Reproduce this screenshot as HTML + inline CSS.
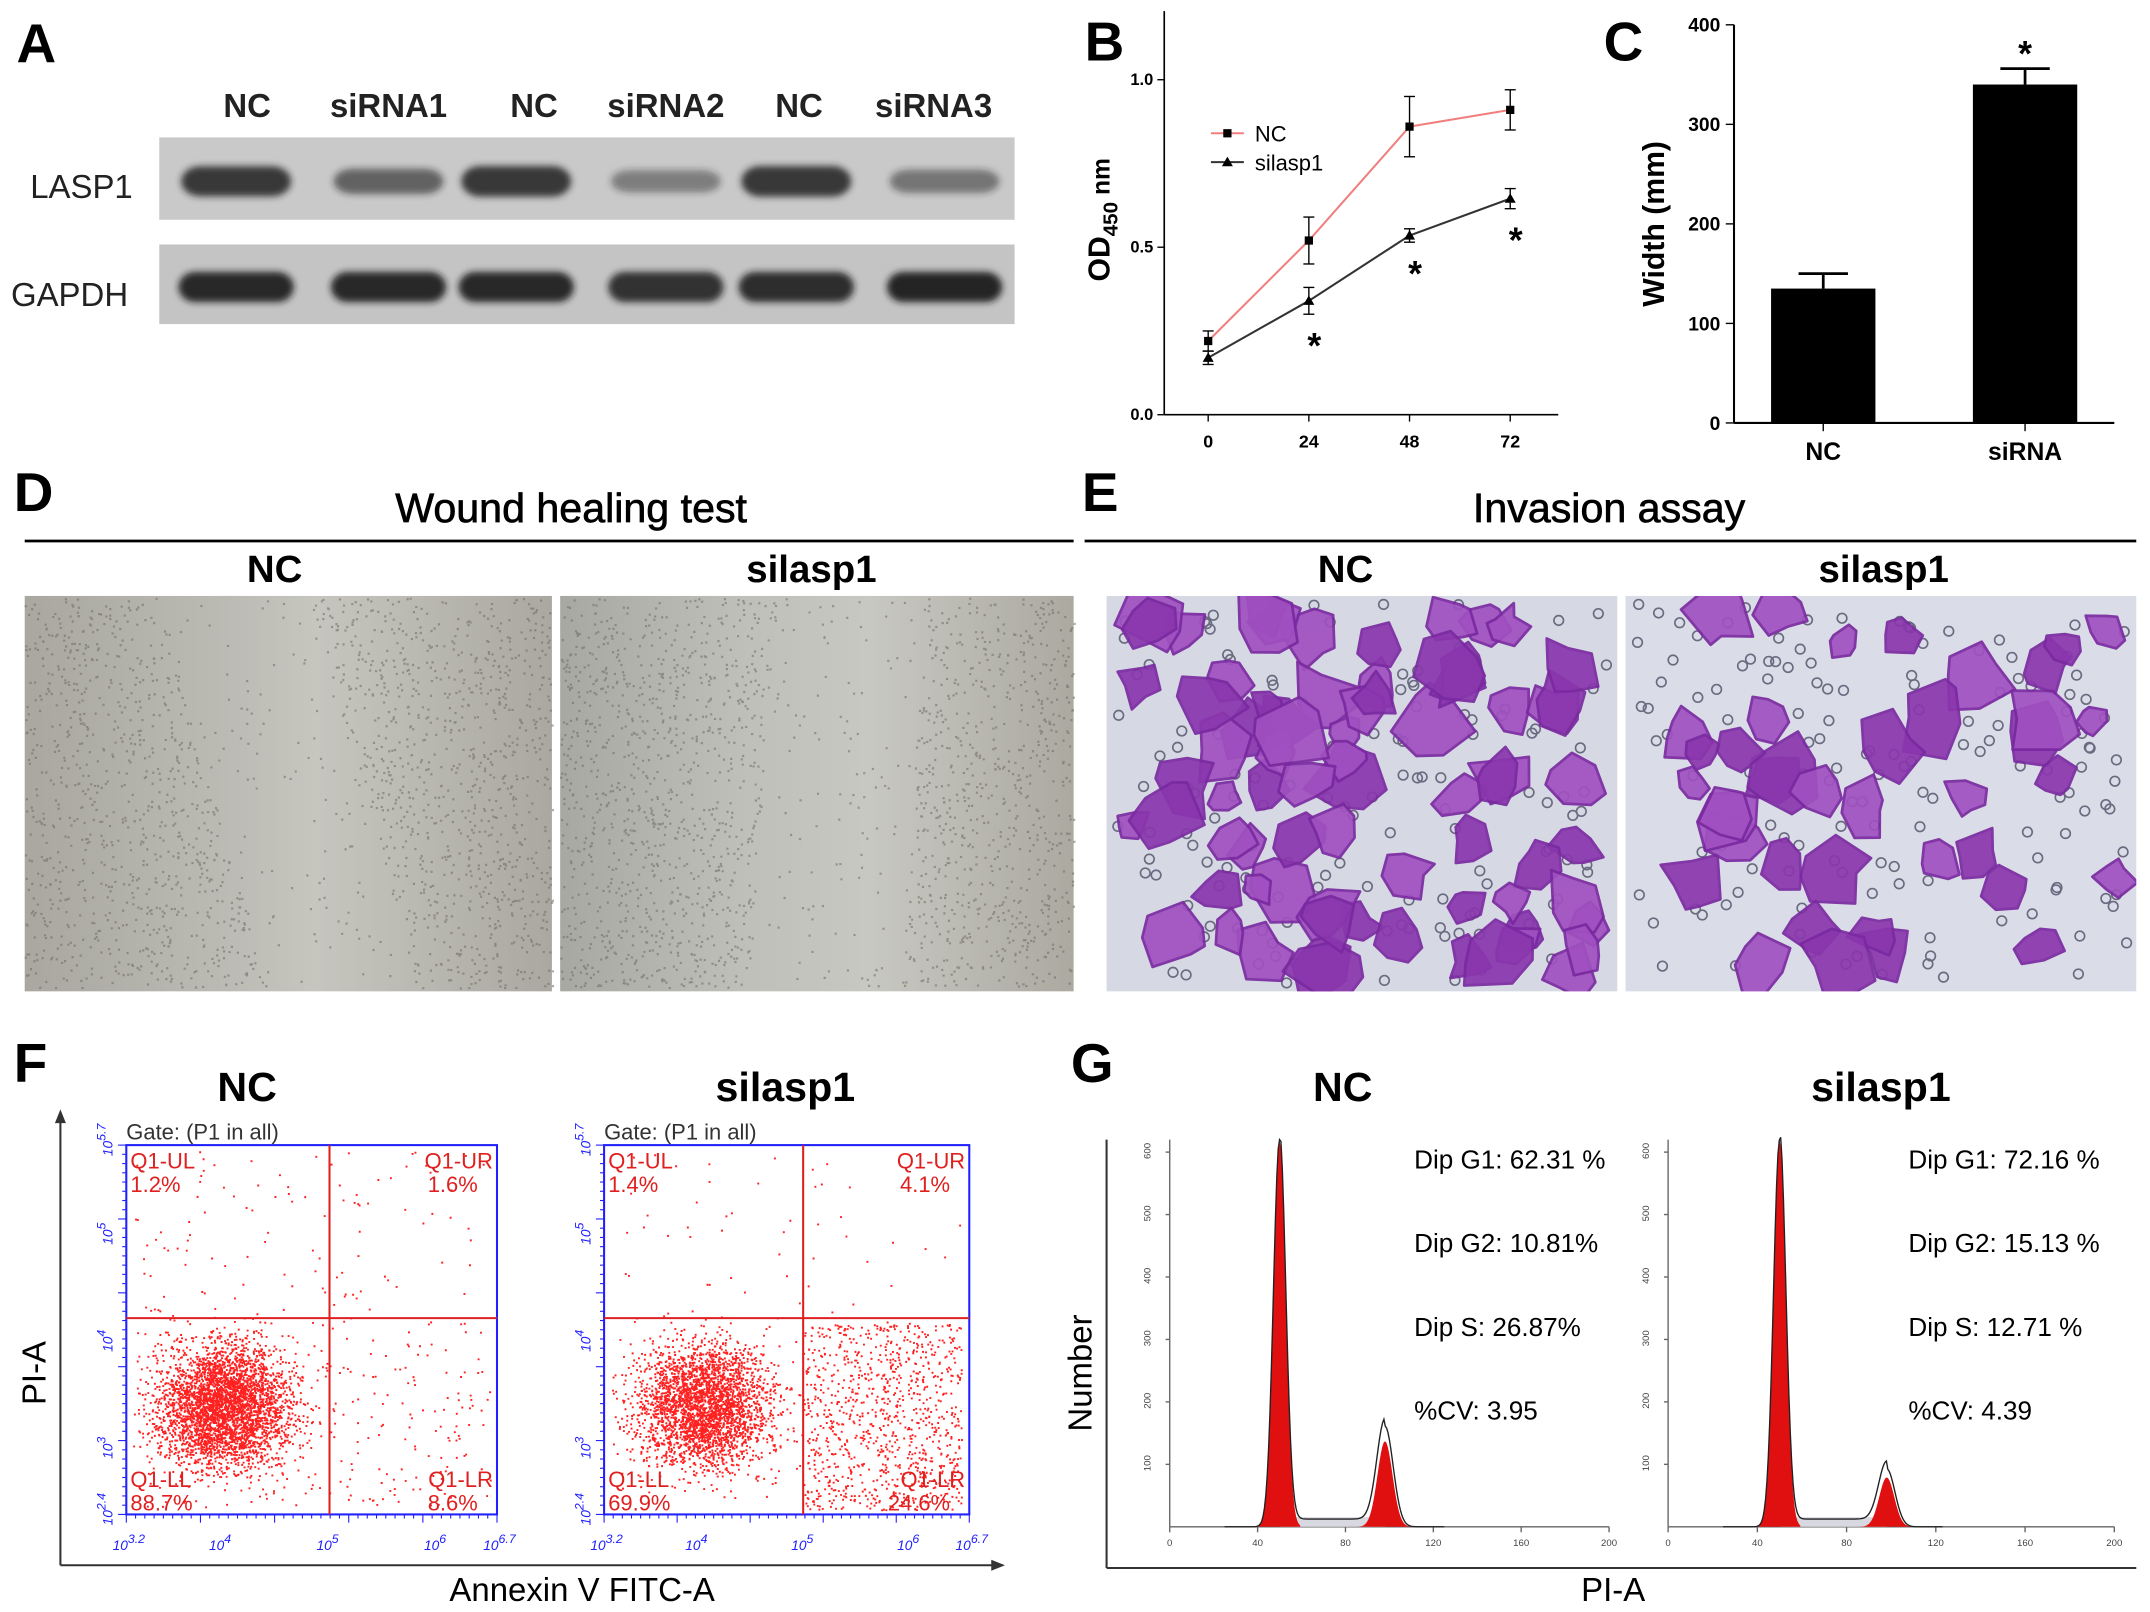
<!DOCTYPE html>
<html><head><meta charset="utf-8"><style>
html,body{margin:0;padding:0;background:#fff}
svg{display:block;font-family:"Liberation Sans",Arial,sans-serif}
</style></head><body>
<svg id="fig" width="2150" height="1612" viewBox="0 0 1566 1174">
<defs>
<linearGradient id="wnd" x1="0" x2="1" y1="0" y2="0">
<stop offset="0" stop-color="#a9a79f"/><stop offset="0.4" stop-color="#bcbcb5"/><stop offset="0.55" stop-color="#c6c6bf"/><stop offset="1" stop-color="#aaa8a0"/></linearGradient>
<linearGradient id="wnd2" x1="0" x2="1" y1="0" y2="0">
<stop offset="0" stop-color="#a8a8a3"/><stop offset="0.35" stop-color="#bfbfba"/><stop offset="0.6" stop-color="#c8c8c2"/><stop offset="1" stop-color="#aba9a0"/></linearGradient>
<filter id="blur1"><feGaussianBlur stdDeviation="2.5"/></filter>
<clipPath id="clipE1"><rect x="806" y="434" width="372" height="288"/></clipPath>
<clipPath id="clipE2"><rect x="1184" y="434" width="372" height="288"/></clipPath>
</defs>

<!-- Panel A -->
<g>
<text x="12" y="45" font-size="40" font-weight="bold">A</text>
<g font-size="24" font-weight="bold" text-anchor="middle" fill="#222">
<text x="180" y="85">NC</text>
<text x="283" y="85">siRNA1</text>
<text x="389" y="85">NC</text>
<text x="485" y="85">siRNA2</text>
<text x="582" y="85">NC</text>
<text x="680" y="85">siRNA3</text>
</g>
<rect x="116" y="100" width="623" height="60" fill="#c9c9c9"/>
<rect x="116" y="178" width="623" height="58" fill="#c4c4c4"/>
<g id="bands" filter="url(#blur1)"></g>
<text x="22" y="144" font-size="24" fill="#222">LASP1</text>
<text x="8" y="223" font-size="24" fill="#222">GAPDH</text>
</g>

<!-- Panel B -->
<g>
<text x="790" y="44" font-size="40" font-weight="bold">B</text>
<g id="chartB"></g>
</g>

<!-- Panel C -->
<g>
<text x="1168" y="44" font-size="40" font-weight="bold">C</text>
<g id="chartC"></g>
</g>

<!-- Panel D -->
<g>
<text x="10" y="372" font-size="40" font-weight="bold">D</text>
<text x="416" y="380" font-size="30" text-anchor="middle" stroke="#000" stroke-width="0.5">Wound healing test</text>
<line x1="18" y1="394" x2="782" y2="394" stroke="#000" stroke-width="2"/>
<text x="200" y="424" font-size="28" font-weight="bold" text-anchor="middle">NC</text>
<text x="591" y="424" font-size="28" font-weight="bold" text-anchor="middle">silasp1</text>
<rect x="18" y="434" width="384" height="288" fill="url(#wnd)"/>
<rect x="408" y="434" width="374" height="288" fill="url(#wnd2)"/>
<g id="speckle"></g>
</g>

<!-- Panel E -->
<g>
<text x="788" y="372" font-size="40" font-weight="bold">E</text>
<text x="1172" y="380" font-size="30" text-anchor="middle" stroke="#000" stroke-width="0.5">Invasion assay</text>
<line x1="790" y1="394" x2="1556" y2="394" stroke="#000" stroke-width="2"/>
<text x="980" y="424" font-size="28" font-weight="bold" text-anchor="middle">NC</text>
<text x="1372" y="424" font-size="28" font-weight="bold" text-anchor="middle">silasp1</text>
<rect x="806" y="434" width="372" height="288" fill="#d6d9e4"/>
<rect x="1184" y="434" width="372" height="288" fill="#dadde7"/>
<g id="cells1" clip-path="url(#clipE1)"></g>
<g id="cells2" clip-path="url(#clipE2)"></g>
</g>

<!-- Panel F -->
<g>
<text x="10" y="788" font-size="40" font-weight="bold">F</text>
<text x="180" y="802" font-size="30" font-weight="bold" text-anchor="middle">NC</text>
<text x="572" y="802" font-size="30" font-weight="bold" text-anchor="middle">silasp1</text>
<line x1="44" y1="1140" x2="44" y2="812" stroke="#333" stroke-width="1.5"/>
<path d="M40,818 L44,808 L48,818 Z" fill="#333"/>
<line x1="44" y1="1140" x2="728" y2="1140" stroke="#333" stroke-width="1.5"/>
<path d="M722,1136 L732,1140 L722,1144 Z" fill="#333"/>
<text transform="translate(33,1000) rotate(-90)" font-size="24" text-anchor="middle">PI-A</text>
<text x="424" y="1166" font-size="24" text-anchor="middle">Annexin V FITC-A</text>
<g id="flow"></g>
</g>

<!-- Panel G -->
<g>
<text x="780" y="788" font-size="40" font-weight="bold">G</text>
<text x="978" y="802" font-size="30" font-weight="bold" text-anchor="middle">NC</text>
<text x="1370" y="802" font-size="30" font-weight="bold" text-anchor="middle">silasp1</text>
<line x1="806" y1="1142" x2="806" y2="830" stroke="#333" stroke-width="1.5"/>
<line x1="806" y1="1142" x2="1556" y2="1142" stroke="#333" stroke-width="1.5"/>
<text transform="translate(795,1000) rotate(-90)" font-size="24" text-anchor="middle">Number</text>
<text x="1175" y="1166" font-size="24" text-anchor="middle">PI-A</text>
<g id="cycle"></g>
</g>
</svg>
<script>
// ---- Panel B data ----
const bHours = [0, 24, 48, 72];
const bNC = [0.22, 0.52, 0.86, 0.91];
const bNCErr = [0.03, 0.07, 0.09, 0.06];
const bSi = [0.17, 0.34, 0.535, 0.645];
const bSiErr = [0.02, 0.04, 0.02, 0.03];
const bYTicks = [0.0, 0.5, 1.0];
// ---- Panel C data ----
const cGroups = ["NC", "siRNA"];
const cValues = [135, 340];
const cErr = [15, 16];
const cYTicks = [0, 100, 200, 300, 400];
// ---- Western blot band intensities (0..1) ----
const laspBands = [0.85, 0.6, 0.88, 0.45, 0.88, 0.5];
const gapdhBands = [0.9, 0.9, 0.9, 0.85, 0.88, 0.92];
// ---- Flow cytometry quadrant labels ----
const flowPct = [["1.2%","1.6%","88.7%","8.6%"],["1.4%","4.1%","69.9%","24.6%"]];
// ---- Cell cycle ----
const cycleTexts = [["Dip G1: 62.31 %","Dip G2:  10.81%","Dip S:  26.87%","%CV: 3.95"],["Dip G1: 72.16 %","Dip G2: 15.13 %","Dip S: 12.71 %","%CV: 4.39"]];
const g2Height = [0.26, 0.15];

const NS = "http://www.w3.org/2000/svg";
function mk(parent, tag, attrs, text) {
  const e = document.createElementNS(NS, tag);
  for (const k in attrs) e.setAttribute(k, attrs[k]);
  if (text !== undefined) e.textContent = text;
  parent.appendChild(e);
  return e;
}
let seed = 7;
function rnd() { seed = (seed * 16807) % 2147483647; return (seed - 1) / 2147483646; }
function gauss() { return (rnd() + rnd() + rnd() + rnd() - 2) / 0.58; }

// Bands
const bands = document.getElementById('bands');
const laneX = [172, 283, 376, 485, 580, 688];
laneX.forEach((x, i) => {
  const a = laspBands[i];
  const e1 = mk(bands, 'rect', {x: x - 40, y: 132 - (5 + 7 * a), width: 80, height: 2 * (5 + 7 * a), rx: 14, fill: '#222', opacity: a});
  
  
  const e2 = mk(bands, 'rect', {x: x - 42, y: 198, width: 84, height: 22, rx: 12, fill: '#1a1a1a', opacity: gapdhBands[i]});
  
  
});

// Panel B chart
(function () {
  const g = document.getElementById('chartB');
  const x0 = 848, yb = 302;
  const X = h => 880 + (h / 72) * 220;
  const Y = v => yb - v * 244;
  mk(g, 'line', {x1: x0, y1: 8, x2: x0, y2: yb, stroke: '#000', 'stroke-width': 1.2});
  mk(g, 'line', {x1: x0, y1: yb, x2: 1135, y2: yb, stroke: '#000', 'stroke-width': 1.2});
  bYTicks.forEach(t => {
    mk(g, 'line', {x1: x0 - 5, y1: Y(t), x2: x0, y2: Y(t), stroke: '#000'});
    const tl = mk(g, 'text', {x: x0 - 8, y: Y(t) + 4, 'font-size': 12, 'font-weight': 'bold', 'text-anchor': 'end'}, t.toFixed(1));
    
    
  });
  bHours.forEach(h => {
    mk(g, 'line', {x1: X(h), y1: yb, x2: X(h), y2: yb + 5, stroke: '#000'});
    const tl = mk(g, 'text', {x: X(h), y: yb + 24, 'font-size': 13, 'font-weight': 'bold', 'text-anchor': 'middle'}, h);
    
    
  });
  function series(vals, errs, col, name, marker) {
    const pts = vals.map((v, i) => X(bHours[i]) + ',' + Y(v)).join(' ');
    const l = mk(g, 'polyline', {points: pts, fill: 'none', stroke: col, 'stroke-width': 1.5});
    
    
    vals.forEach((v, i) => {
      const x = X(bHours[i]);
      mk(g, 'line', {x1: x, y1: Y(v + errs[i]), x2: x, y2: Y(v - errs[i]), stroke: '#000'});
      mk(g, 'line', {x1: x - 4, y1: Y(v + errs[i]), x2: x + 4, y2: Y(v + errs[i]), stroke: '#000'});
      mk(g, 'line', {x1: x - 4, y1: Y(v - errs[i]), x2: x + 4, y2: Y(v - errs[i]), stroke: '#000'});
      let m;
      if (marker === 'sq') m = mk(g, 'rect', {x: x - 3, y: Y(v) - 3, width: 6, height: 6, fill: '#000'});
      else m = mk(g, 'path', {d: `M${x},${Y(v) - 4} L${x + 4},${Y(v) + 3} L${x - 4},${Y(v) + 3} Z`, fill: '#000'});
      
      
    });
  }
  series(bNC, bNCErr, '#f08080', 'nc', 'sq');
  series(bSi, bSiErr, '#333', 'silasp1', 'tri');
  for (let i = 1; i < bSi.length; i++) {
    const s = mk(g, 'text', {x: X(bHours[i]) + 4, y: Y(bSi[i] - bSiErr[i]) + 32, 'font-size': 26, 'font-weight': 'bold', 'text-anchor': 'middle'}, '*');
    
    
  }
  mk(g, 'line', {x1: 882, y1: 97, x2: 906, y2: 97, stroke: '#f08080', 'stroke-width': 1.5});
  mk(g, 'rect', {x: 891, y: 94, width: 6, height: 6, fill: '#000'});
  const l1 = mk(g, 'text', {x: 914, y: 103, 'font-size': 16}, 'NC');
  
  
  mk(g, 'line', {x1: 882, y1: 118, x2: 906, y2: 118, stroke: '#333', 'stroke-width': 1.5});
  mk(g, 'path', {d: 'M894,114 L898,121 L890,121 Z', fill: '#000'});
  const l2 = mk(g, 'text', {x: 914, y: 124, 'font-size': 16}, 'silasp1');
  
  
  const yt = mk(g, 'text', {transform: 'translate(808,205) rotate(-90)', 'font-size': 22, 'font-weight': 'bold'});
  
  
  mk(yt, 'tspan', {}, 'OD');
  mk(yt, 'tspan', {'font-size': 15, dy: 6}, '450');
  mk(yt, 'tspan', {'font-size': 18, dy: -6}, ' nm');
})();

// Panel C chart
(function () {
  const g = document.getElementById('chartC');
  const x0 = 1263, yb = 308;
  const Y = v => yb - v * 0.725;
  const bx = [1290, 1437], bw = 76;
  mk(g, 'line', {x1: x0, y1: Y(400), x2: x0, y2: yb, stroke: '#000', 'stroke-width': 1.5});
  mk(g, 'line', {x1: x0, y1: yb, x2: 1540, y2: yb, stroke: '#000', 'stroke-width': 1.5});
  cYTicks.forEach(t => {
    mk(g, 'line', {x1: x0 - 6, y1: Y(t), x2: x0, y2: Y(t), stroke: '#000'});
    const tl = mk(g, 'text', {x: x0 - 10, y: Y(t) + 5, 'font-size': 14, 'font-weight': 'bold', 'text-anchor': 'end'}, t);
    
    
  });
  cValues.forEach((v, i) => {
    const r = mk(g, 'rect', {x: bx[i], y: Y(v), width: bw, height: yb - Y(v), fill: '#000'});
    
    
    const cx = bx[i] + bw / 2;
    mk(g, 'line', {x1: cx, y1: Y(v), x2: cx, y2: Y(v + cErr[i]), stroke: '#000', 'stroke-width': 2});
    mk(g, 'line', {x1: cx - 18, y1: Y(v + cErr[i]), x2: cx + 18, y2: Y(v + cErr[i]), stroke: '#000', 'stroke-width': 2});
    mk(g, 'line', {x1: cx, y1: yb, x2: cx, y2: yb + 6, stroke: '#000'});
    const tl = mk(g, 'text', {x: cx, y: yb + 27, 'font-size': 18, 'font-weight': 'bold', 'text-anchor': 'middle'}, cGroups[i]);
    
    
  });
  const s = mk(g, 'text', {x: bx[1] + bw / 2, y: Y(cValues[1] + cErr[1]) - 2, 'font-size': 26, 'font-weight': 'bold', 'text-anchor': 'middle'}, '*');
  
  
  const yt = mk(g, 'text', {transform: 'translate(1212,163) rotate(-90)', 'font-size': 22, 'font-weight': 'bold', 'text-anchor': 'middle'}, 'Width (mm)');
  
  
})();

// Wound image speckle (decorative texture)
(function () {
  const g = document.getElementById('speckle');
  let d = '';
  [[18, 402, 170, 250], [408, 782, 620, 600]].forEach(([a, b, gap0, gap1]) => {
    for (let i = 0; i < 2600; i++) {
      const x = a + rnd() * (b - a), y = 436 + rnd() * 284;
      const gc = gap0 + (gap1 - gap0) * (y - 434) / 288;
      if (Math.abs(x - gc) < 55 && rnd() < 0.85) continue;
      d += `M${x.toFixed(1)},${y.toFixed(1)}h1.6`;
    }
  });
  mk(g, 'path', {d: d, stroke: '#6e6a62', 'stroke-width': 1.6, opacity: 0.55});
})();

// Invasion cells (decorative image texture)
(function () {
  [['cells1', 806, 1178, 75], ['cells2', 1184, 1556, 40]].forEach(([id, a, b, n]) => {
    const g = document.getElementById(id);
    for (let i = 0; i < 140; i++) {
      const x = a + 6 + rnd() * (b - a - 12), y = 440 + rnd() * 276;
      mk(g, 'circle', {cx: x, cy: y, r: 3.5, fill: 'none', stroke: '#6a6a80', 'stroke-width': 1.2});
    }
    for (let i = 0; i < n; i++) {
      const x = a + 15 + rnd() * (b - a - 30), y = 445 + rnd() * 265;
      const r = 12 + rnd() * 15;
      let d = '';
      for (let k = 0; k < 7; k++) {
        const ang = k / 7 * Math.PI * 2 + rnd() * 0.6;
        const rr = r * (0.6 + rnd() * 0.7);
        d += (k ? 'L' : 'M') + (x + Math.cos(ang) * rr).toFixed(1) + ',' + (y + Math.sin(ang) * rr).toFixed(1);
      }
      mk(g, 'path', {d: d + 'Z', fill: rnd() < 0.5 ? '#8a36ad' : '#a050c0', stroke: '#7a2aa0', 'stroke-width': 2, 'stroke-linejoin': 'round', opacity: 0.92});
    }
  });
})();

// Flow cytometry
(function () {
  const g = document.getElementById('flow');
  const boxes = [{x: 92, w: 270, vx: 240, n: 4200, spread: 0}, {x: 440, w: 266, vx: 585, n: 4200, spread: 1}];
  const y0 = 834, h = 269, hy = 960;
  boxes.forEach((bx, bi) => {
    const gp = mk(g, 'g', {});
    
    
    mk(gp, 'text', {x: bx.x, y: y0 - 4, 'font-size': 16, fill: '#333'}, 'Gate: (P1 in all)');
    let pts = '';
    for (let i = 0; i < bx.n; i++) {
      let x, y;
      if (i < bx.n * (bi ? 0.72 : 0.86)) { x = bx.x + 72 + gauss() * 24; y = 1025 + gauss() * 22; }
      else if (bx.spread && i < bx.n * 0.94) { x = bx.vx + rnd() * 115; y = 965 + rnd() * 135; }
      else { x = bx.x + 5 + rnd() * (bx.w - 10); y = y0 + 5 + rnd() * (h - 10); if (y < hy && rnd() < 0.6) continue; }
      if (x < bx.x + 2 || x > bx.x + bx.w - 2 || y > y0 + h - 2 || y < y0 + 2) continue;
      pts += `M${x.toFixed(1)},${y.toFixed(1)}h1.4`;
    }
    mk(gp, 'path', {d: pts, stroke: '#ff2020', 'stroke-width': 1.4});
    mk(gp, 'rect', {x: bx.x, y: y0, width: bx.w, height: h, fill: 'none', stroke: '#2020ff', 'stroke-width': 1.5});
    mk(gp, 'line', {x1: bx.vx, y1: y0, x2: bx.vx, y2: y0 + h, stroke: '#e02020', 'stroke-width': 1.5});
    mk(gp, 'line', {x1: bx.x, y1: hy, x2: bx.x + bx.w, y2: hy, stroke: '#e02020', 'stroke-width': 1.5});
    const p = flowPct[bi];
    const fs = {'font-size': 16, fill: '#e02020'};
    mk(gp, 'text', Object.assign({x: bx.x + 3, y: y0 + 17}, fs), 'Q1-UL');
    mk(gp, 'text', Object.assign({x: bx.x + 3, y: y0 + 34}, fs), p[0]);
    mk(gp, 'text', Object.assign({x: bx.x + bx.w - 3, y: y0 + 17, 'text-anchor': 'end'}, fs), 'Q1-UR');
    mk(gp, 'text', Object.assign({x: bx.x + bx.w - 14, y: y0 + 34, 'text-anchor': 'end'}, fs), p[1]);
    mk(gp, 'text', Object.assign({x: bx.x + 3, y: y0 + h - 20}, fs), 'Q1-LL');
    mk(gp, 'text', Object.assign({x: bx.x + 3, y: y0 + h - 3}, fs), p[2]);
    mk(gp, 'text', Object.assign({x: bx.x + bx.w - 3, y: y0 + h - 20, 'text-anchor': 'end'}, fs), 'Q1-LR');
    mk(gp, 'text', Object.assign({x: bx.x + bx.w - 14, y: y0 + h - 3, 'text-anchor': 'end'}, fs), p[3]);
    for (let k = 0; k <= 40; k++) {
      const yy = y0 + h - k * h / 40;
      mk(gp, 'line', {x1: bx.x - (k % 8 ? 3 : 6), y1: yy, x2: bx.x, y2: yy, stroke: '#2020ff', 'stroke-width': 0.8});
      const xx = bx.x + k * bx.w / 40;
      mk(gp, 'line', {x1: xx, y1: y0 + h, x2: xx, y2: y0 + h + (k % 8 ? 3 : 6), stroke: '#2020ff', 'stroke-width': 0.8});
    }
    ['3.2', '4', '5', '6', '6.7'].forEach((t, k) => {
      const xx = bx.x + [0, 0.26, 0.55, 0.84, 1][k] * bx.w;
      const tx = mk(gp, 'text', {x: xx - 10, y: y0 + h + 26, 'font-size': 10, fill: '#2020ff', 'font-style': 'italic'});
      mk(tx, 'tspan', {}, '10');
      mk(tx, 'tspan', {dy: -5, 'font-size': 9}, t);
    });
    ['2.4', '3', '4', '5', '5.7'].forEach((t, k) => {
      const yy = y0 + h - [0, 0.18, 0.47, 0.76, 1][k] * h;
      const tx = mk(gp, 'text', {transform: `translate(${bx.x - 10},${yy + 8}) rotate(-90)`, 'font-size': 10, fill: '#2020ff', 'font-style': 'italic'});
      mk(tx, 'tspan', {}, '10');
      mk(tx, 'tspan', {dy: -5, 'font-size': 9}, t);
    });
  });
})();

// Cell cycle histograms
(function () {
  const g = document.getElementById('cycle');
  [{x: 852, w: 320, tx: 1030}, {x: 1215, w: 325, tx: 1390}].forEach((p, i) => {
    const gp = mk(g, 'g', {});
    
    
    const yb = 1112, top = 830, H = yb - top;
    mk(gp, 'line', {x1: p.x, y1: top, x2: p.x, y2: yb, stroke: '#666', 'stroke-width': 1});
    mk(gp, 'line', {x1: p.x, y1: yb, x2: p.x + p.w, y2: yb, stroke: '#666', 'stroke-width': 1});
    for (let k = 0; k <= 5; k++) {
      const xx = p.x + k * p.w / 5;
      mk(gp, 'line', {x1: xx, y1: yb, x2: xx, y2: yb + 4, stroke: '#666'});
      mk(gp, 'text', {x: xx, y: yb + 14, 'font-size': 7, 'text-anchor': 'middle', fill: '#444'}, k * 40);
    }
    for (let k = 1; k <= 6; k++) {
      const yy = yb - k * H / 6.2;
      mk(gp, 'line', {x1: p.x - 3, y1: yy, x2: p.x, y2: yy, stroke: '#666'});
      mk(gp, 'text', {transform: `translate(${p.x - 14},${yy + 5}) rotate(-90)`, 'font-size': 7, fill: '#444'}, k * 100);
    }
    const g1x = p.x + p.w * 0.25, g2x = p.x + p.w * 0.49;
    const f = x => H * (Math.exp(-((x - g1x) ** 2) / 40) + g2Height[i] * Math.exp(-((x - g2x) ** 2) / 70) + 0.02 * (x > g1x && x < g2x));
    let d1 = `M${g1x - 15},${yb}`, d2 = `M${g2x - 20},${yb}`, dl = `M${p.x + 40},${yb}`;
    for (let x = g1x - 15; x <= g1x + 15; x += 1) d1 += `L${x},${yb - H * Math.exp(-((x - g1x) ** 2) / 40)}`;
    for (let x = g2x - 20; x <= g2x + 20; x += 1) d2 += `L${x},${yb - H * g2Height[i] * 0.85 * Math.exp(-((x - g2x) ** 2) / 60)}`;
    for (let x = p.x + 40; x <= p.x + 200; x += 1) dl += `L${x},${yb - f(x)}`;
    mk(gp, 'rect', {x: g1x, y: yb - 7, width: g2x - g1x, height: 7, fill: '#d8d8e0'});
    mk(gp, 'path', {d: d1 + `L${g1x + 15},${yb}Z`, fill: '#e01010'});
    mk(gp, 'path', {d: d2 + `L${g2x + 20},${yb}Z`, fill: '#e01010'});
    mk(gp, 'path', {d: dl, fill: 'none', stroke: '#222', 'stroke-width': 1});
    cycleTexts[i].forEach((t, k) => {
      const tl = mk(gp, 'text', {x: p.tx, y: 851 + k * 61, 'font-size': 19}, t);
      
      
    });
  });
})();
</script>
</body></html>
